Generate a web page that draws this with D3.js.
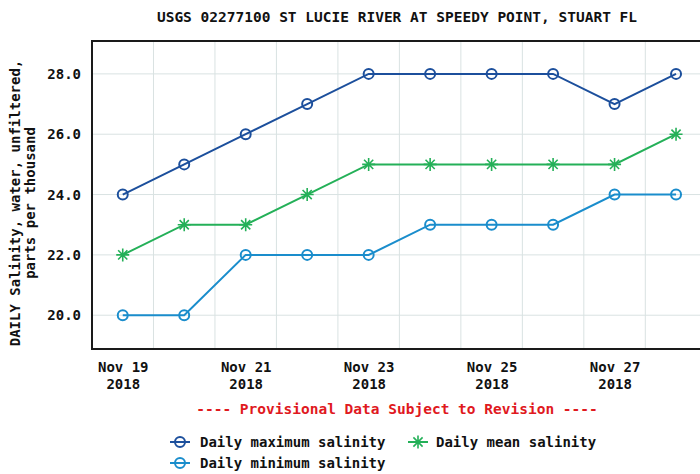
<!DOCTYPE html>
<html>
<head>
<meta charset="utf-8">
<script src="https://cdn.jsdelivr.net/npm/d3@7"></script>
<style>
	body{ margin:0; background:#fff; }
	text{ font-family:"DejaVu Sans Mono", "Liberation Mono", monospace; font-weight:bold; }
</style>
</head>
<body>
<div id="chart"></div>
<script>

// data
const days = ["2018-11-19","2018-11-20","2018-11-21","2018-11-22","2018-11-23",
	"2018-11-24","2018-11-25","2018-11-26","2018-11-27","2018-11-28"];
const maxSalinity  = [24, 25, 26, 27, 28, 28, 28, 28, 27, 28];
const meanSalinity = [22, 23, 23, 24, 25, 25, 25, 25, 25, 26];
const minSalinity  = [20, 20, 22, 22, 22, 23, 23, 23, 24, 24];
const yTicks = [20, 22, 24, 26, 28];
const xTickDays = ["2018-11-19","2018-11-21","2018-11-23","2018-11-25","2018-11-27"];

const width = 700, height = 474;
const plot = { left : 92, top : 41, bottom : 349, right : 716 };

const parse = d3.utcParse("%Y-%m-%d");
const dates = days.map(parse);
const HALF = 12*3600*1000;

const x = d3.scaleUtc()
	.domain([new Date(+dates[0] - HALF), new Date(+dates[9] + 15.6*3600*1000)])
	.range([plot.left, plot.right]);
const y = d3.scaleLinear()
	.domain([18.88, 29.09])
	.range([plot.bottom, plot.top]);

const series = [
	{ name : "Daily maximum salinity", values : maxSalinity,  color : "#1c4f9c", marker : "circle" },
	{ name : "Daily mean salinity",    values : meanSalinity, color : "#24b058", marker : "star" },
	{ name : "Daily minimum salinity", values : minSalinity,  color : "#1a8dcc", marker : "circle" }
];

const svg = d3.select("#chart").append("svg")
	.attr("width", width)
	.attr("height", height);

svg.append("defs").append("clipPath").attr("id", "clip")
	.append("rect")
	.attr("x", plot.left).attr("y", plot.top)
	.attr("width", plot.right - plot.left).attr("height", plot.bottom - plot.top);

// grid: vertical lines half way between days, horizontal at labelled values
const grid = svg.append("g").attr("clip-path", "url(#clip)");
grid.selectAll(".vgrid")
	.data(dates)
	.join("line")
	.attr("x1", d => x(new Date(+d + HALF)))
	.attr("x2", d => x(new Date(+d + HALF)))
	.attr("y1", plot.top).attr("y2", plot.bottom)
	.attr("stroke", "#d9e2e2").attr("stroke-width", 1);
grid.selectAll(".hgrid")
	.data(yTicks)
	.join("line")
	.attr("x1", plot.left).attr("x2", plot.right)
	.attr("y1", d => y(d)).attr("y2", d => y(d))
	.attr("stroke", "#d9e2e2").attr("stroke-width", 1);

// y axis labels
const yAxis = svg.append("g")
	.attr("transform", `translate(${plot.left},0)`)
	.call(d3.axisLeft(y).tickValues(yTicks).tickSize(0).tickPadding(11).tickFormat(d3.format(".1f")));
yAxis.select(".domain").remove();
yAxis.selectAll("text").attr("font-size", 14).attr("fill", "#111")
	.style("font-family", "'DejaVu Sans Mono', monospace").style("font-weight", "bold");

// x axis labels, two lines
const xAxis = svg.append("g")
	.attr("transform", `translate(0,${plot.bottom})`)
	.call(d3.axisBottom(x).tickValues(xTickDays.map(parse)).tickSize(0).tickFormat(""));
xAxis.select(".domain").remove();
xAxis.selectAll(".tick").each(function(d){
	const t = d3.select(this);
	t.append("text").attr("y", 23).attr("text-anchor", "middle").attr("font-size", 14).attr("fill", "#111")
		.text(d3.utcFormat("%b %d")(d));
	t.append("text").attr("y", 40).attr("text-anchor", "middle").attr("font-size", 14).attr("fill", "#111")
		.text(d3.utcFormat("%Y")(d));
});

// series
const line = d3.line()
	.x((d, i) => x(dates[i]))
	.y(d => y(d));

const starPath = (r) => {
	let p = "";
	for(let k = 0; k < 4; k++){
		const a = k*Math.PI/4;
		const dx = r*Math.cos(a), dy = r*Math.sin(a);
		p += `M${-dx},${-dy}L${dx},${dy}`;
	}
	return p;
};

function drawMarker(g, s){
	if(s.marker == "circle"){
		g.append("circle").attr("r", 5).attr("fill", "none")
			.attr("stroke", s.color).attr("stroke-width", 2);
	}else{
		g.append("path").attr("d", starPath(6.5)).attr("fill", "none")
			.attr("stroke", s.color).attr("stroke-width", 1.6);
	}
}

const plotG = svg.append("g").attr("clip-path", "url(#clip)");
series.forEach(s => {
	plotG.append("path")
		.attr("d", line(s.values))
		.attr("fill", "none")
		.attr("stroke", s.color)
		.attr("stroke-width", 2);
	plotG.selectAll(null)
		.data(s.values)
		.join("g")
		.attr("transform", (d, i) => `translate(${x(dates[i])},${y(d)})`)
		.each(function(){ drawMarker(d3.select(this), s); });
});

// frame
svg.append("rect")
	.attr("x", plot.left).attr("y", plot.top)
	.attr("width", plot.right - plot.left).attr("height", plot.bottom - plot.top)
	.attr("fill", "none").attr("stroke", "#1a1a1a").attr("stroke-width", 2);

// title
svg.append("text")
	.attr("x", 397).attr("y", 22)
	.attr("text-anchor", "middle").attr("font-size", 14.5).attr("fill", "#111")
	.text("USGS 02277100 ST LUCIE RIVER AT SPEEDY POINT, STUART FL");

// y axis title
const yTitle = svg.append("text")
	.attr("transform", `translate(0,${(plot.top + plot.bottom)/2 + 8}) rotate(-90)`)
	.attr("text-anchor", "middle").attr("font-size", 14).attr("fill", "#111");
yTitle.append("tspan").attr("x", 0).attr("y", 20).text("DAILY Salinity, water, unfiltered,");
yTitle.append("tspan").attr("x", 0).attr("y", 35).text("parts per thousand");

// provisional note
svg.append("text")
	.attr("x", 397).attr("y", 414)
	.attr("text-anchor", "middle").attr("font-size", 14.5).attr("fill", "#e0191e")
	.text("---- Provisional Data Subject to Revision ----");

// legend
const legendPos = [[170, 442], [408, 442], [170, 463]];
const legendOrder = [series[0], series[1], series[2]];
legendOrder.forEach((s, i) => {
	const g = svg.append("g").attr("transform", `translate(${legendPos[i][0]},${legendPos[i][1]})`);
	g.append("line").attr("x1", 0).attr("x2", 20).attr("y1", 0).attr("y2", 0)
		.attr("stroke", s.color).attr("stroke-width", 2);
	const m = g.append("g").attr("transform", "translate(10,0)");
	drawMarker(m, s);
	g.append("text").attr("x", s.marker == "star" ? 28 : 30).attr("y", 5)
		.attr("font-size", 14).attr("fill", "#111").text(s.name);
});

</script>
</body>
</html>
